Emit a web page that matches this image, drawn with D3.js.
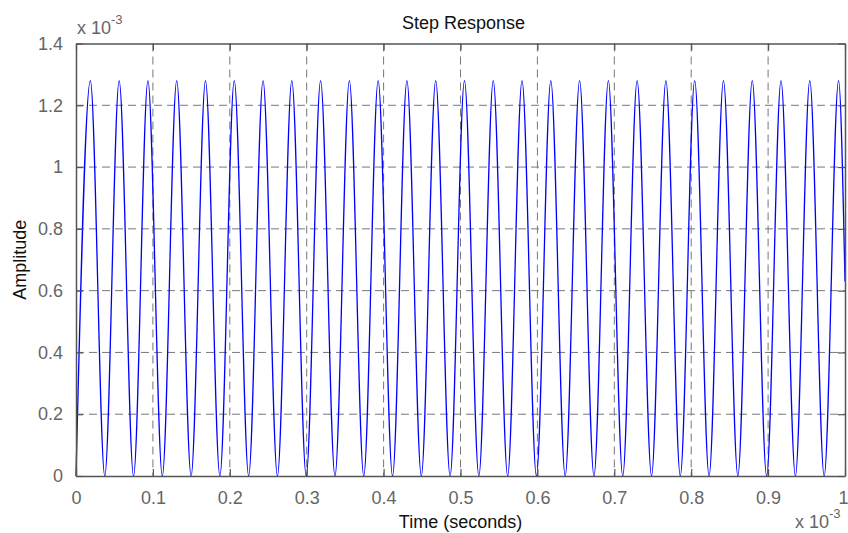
<!DOCTYPE html>
<html>
<head>
<meta charset="utf-8">
<script src="https://cdn.jsdelivr.net/npm/d3@7"></script>
<style>
  html, body { margin: 0; padding: 0; background: #fff; }
  svg { display: block; }
  text { font-family: Arial, "Liberation Sans", Helvetica, sans-serif; }
</style>
</head>
<body>
<svg id="chart" width="848" height="533"></svg>
<script>
// ---- data (time in units of 1e-3 s, amplitude in units of 1e-3) ----
const troughTimes = [0, 0.03742, 0.07484, 0.11226, 0.14968, 0.18710, 0.22452, 0.26194, 0.29936,
  0.33678, 0.37420, 0.41162, 0.44904, 0.48646, 0.52388, 0.56130, 0.59872, 0.63614, 0.67356,
  0.71098, 0.74840, 0.78582, 0.82324, 0.86066, 0.89808, 0.93550, 0.97292];
const troughValues = [0, 0, 0, 0, 0, 0, 0, 0, 0, 0, 0, 0, 0, 0, 0, 0, 0, 0, 0, 0, 0, 0, 0, 0, 0, 0, 0];
const peakTimes = [0.01871, 0.05613, 0.09355, 0.13097, 0.16839, 0.20581, 0.24323, 0.28065, 0.31807,
  0.35549, 0.39291, 0.43033, 0.46775, 0.50517, 0.54259, 0.58001, 0.61743, 0.65485, 0.69227,
  0.72969, 0.76711, 0.80453, 0.84195, 0.87937, 0.91679, 0.95421, 0.99163];
const peakValues = [1.28, 1.28, 1.28, 1.28, 1.28, 1.28, 1.28, 1.28, 1.28, 1.28, 1.28, 1.28, 1.28, 1.28,
  1.28, 1.28, 1.28, 1.28, 1.28, 1.28, 1.28, 1.28, 1.28, 1.28, 1.28, 1.28, 1.28];
const endTime = [1.0];
const endValue = [0.63];

const xTicks = [0, 0.1, 0.2, 0.3, 0.4, 0.5, 0.6, 0.7, 0.8, 0.9, 1];
const xTickLabels = ["0", "0.1", "0.2", "0.3", "0.4", "0.5", "0.6", "0.7", "0.8", "0.9", "1"];
const yTicks = [0, 0.2, 0.4, 0.6, 0.8, 1.0, 1.2, 1.4];
const yTickLabels = ["0", "0.2", "0.4", "0.6", "0.8", "1", "1.2", "1.4"];

const titleText = "Step Response";
const xLabelText = "Time (seconds)";
const yLabelText = "Amplitude";

// ---- layout ----
const L = 76, R = 845, T = 43.5, B = 476;
const svg = d3.select("#chart");

const x = d3.scaleLinear().domain([0, 1]).range([L, R]);
const y = d3.scaleLinear().domain([0, 1.4]).range([B, T]);

const points = troughTimes.map((t, i) => ({ t, v: troughValues[i] }))
  .concat(peakTimes.map((t, i) => ({ t, v: peakValues[i] })))
  .concat(endTime.map((t, i) => ({ t, v: endValue[i] })))
  .sort((a, b) => a.t - b.t);

const axisColor = "#555";
const tickTextColor = "#666";
const fs = 18;

// grid
const gridG = svg.append("g");
gridG.selectAll("line.vx").data(xTicks.slice(1, -1)).join("line")
  .attr("x1", d => x(d)).attr("x2", d => x(d))
  .attr("y1", T).attr("y2", B)
  .attr("stroke", "#777").attr("stroke-width", 1).attr("stroke-dasharray", "8,5");
gridG.selectAll("line.hy").data(yTicks.slice(1, -1)).join("line")
  .attr("x1", L).attr("x2", R)
  .attr("y1", d => y(d)).attr("y2", d => y(d))
  .attr("stroke", "#777").attr("stroke-width", 1).attr("stroke-dasharray", "8,5");

// curve
const line = d3.line().x(d => x(d.t)).y(d => y(d.v)).curve(d3.curveMonotoneX);
svg.append("path").datum(points)
  .attr("d", line)
  .attr("fill", "none").attr("stroke", "#0000ff").attr("stroke-width", 1.3);

// axes via d3 axis (inward ticks)
const tickLen = 7;
const xAxisB = d3.axisBottom(x).tickValues(xTicks).tickFormat((d, i) => xTickLabels[i])
  .tickSizeInner(-tickLen).tickSizeOuter(0).tickPadding(tickLen + 8);
const gB = svg.append("g").attr("transform", `translate(0,${B})`).call(xAxisB);
const xAxisT = d3.axisTop(x).tickValues(xTicks).tickFormat("").tickSizeInner(-tickLen).tickSizeOuter(0);
const gT = svg.append("g").attr("transform", `translate(0,${T})`).call(xAxisT);
const yAxisL = d3.axisLeft(y).tickValues(yTicks).tickFormat((d, i) => yTickLabels[i])
  .tickSizeInner(-tickLen).tickSizeOuter(0).tickPadding(tickLen + 6);
const gL = svg.append("g").attr("transform", `translate(${L},0)`).call(yAxisL);
const yAxisR = d3.axisRight(y).tickValues(yTicks).tickFormat("").tickSizeInner(-tickLen).tickSizeOuter(0);
const gR = svg.append("g").attr("transform", `translate(${R},0)`).call(yAxisR);

[gB, gT, gL, gR].forEach(g => {
  g.select(".domain").attr("stroke", axisColor).attr("stroke-width", 1.5);
  g.selectAll(".tick line").attr("stroke", axisColor).attr("stroke-width", 1.2);
  g.selectAll(".tick text").attr("fill", tickTextColor)
    .style("font-family", "Arial, 'Liberation Sans', sans-serif").style("font-size", fs + "px");
});
// keep the last x tick label inside the page
gB.selectAll(".tick text").filter((d, i) => i === xTicks.length - 1)
  .attr("text-anchor", "end").attr("dx", "3");

// exponent labels
function expLabel(xp, yb, anchor) {
  const t = svg.append("text").attr("x", xp).attr("y", yb)
    .attr("fill", tickTextColor).style("font-size", fs + "px").attr("text-anchor", anchor);
  t.append("tspan").text("x 10");
  t.append("tspan").attr("dy", -10).style("font-size", "13px").text("-3");
}
expLabel(77, 34, "start");
expLabel(795, 528, "start");

// title & labels
svg.append("text").attr("x", (L + R) / 2 + 3).attr("y", 29).attr("text-anchor", "middle")
  .attr("fill", "#111").style("font-size", "18px").text(titleText);
svg.append("text").attr("x", (L + R) / 2).attr("y", 528).attr("text-anchor", "middle")
  .attr("fill", "#111").style("font-size", "18px").text(xLabelText);
svg.append("text").attr("transform", `translate(26,${(T + B) / 2}) rotate(-90)`)
  .attr("text-anchor", "middle").attr("fill", "#111").style("font-size", "18px").text(yLabelText);
</script>
</body>
</html>
